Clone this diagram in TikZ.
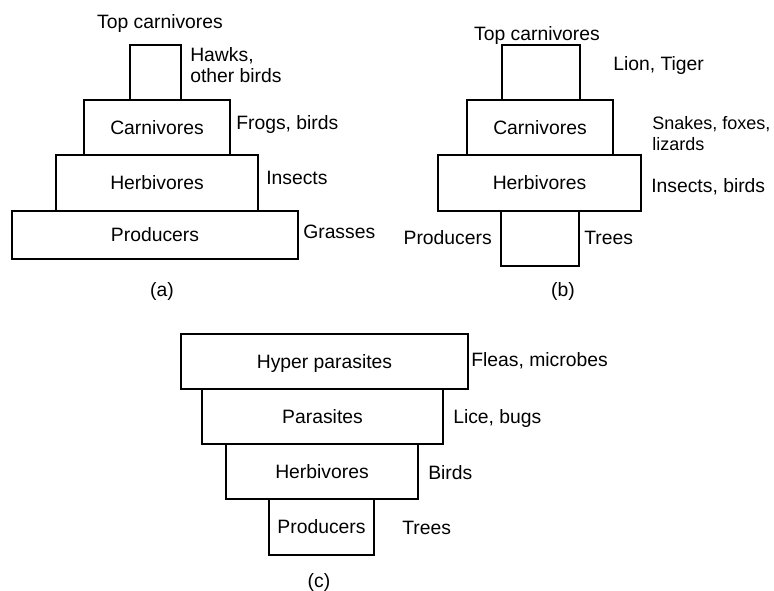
\documentclass[tikz,border=0pt]{standalone}
\usepackage{fontspec}
\setmainfont{Liberation Sans}
\tikzset{
  tier/.style={draw, line width=2.2pt, inner sep=0pt, text height=10.4pt, text depth=0pt},
  side/.style={inner sep=0pt, anchor=base west},
  title/.style={inner sep=0pt, anchor=base},
}
\begin{document}
\begin{tikzpicture}[x=0.75pt,y=-0.75pt,
    every node/.append style={font=\fontsize{14.5pt}{16pt}\selectfont}]
                        \useasboundingbox (0,0) rectangle (774,591);
                        % (a)
                        \node[tier, minimum width=38.25pt, minimum height=41.25pt] (aTop) at (155.5,72.5) {};
                        \node[tier, minimum width=109.5pt, minimum height=41.25pt] (aCarn) at (157,127.5) {Carnivores};
                        \node[tier, minimum width=151.5pt, minimum height=42pt] (aHerb) at (157,183) {Herbivores};
                        \node[tier, minimum width=214.5pt, minimum height=36pt] (aProd) at (155,235) {Producers};
                        \node[title] (aTopName) at (160,29) {Top carnivores};
                        \node[inner sep=0pt, anchor=north west, align=left] (aTopEx) at (190,47) {Hawks,\\other birds};
                        \node[side] (aCarnEx) at (236,130) {Frogs, birds};
                        \node[side] (aHerbEx) at (266,185) {Insects};
                        \node[side] (aProdEx) at (303,239) {Grasses};
                        \node[title] (aCap) at (162,297) {(a)};
                        % (b)
                        \node[tier, minimum width=58.5pt, minimum height=41.25pt] (bTop) at (541,72.5) {};
                        \node[tier, minimum width=109.5pt, minimum height=41.25pt] (bCarn) at (540,127.5) {Carnivores};
                        \node[tier, minimum width=152.25pt, minimum height=42pt] (bHerb) at (539.5,183) {Herbivores};
                        \node[tier, minimum width=58.5pt, minimum height=41.25pt] (bProd) at (540,238.5) {};
                        \node[title] (bTopName) at (537,41) {Top carnivores};
                        \node[side] (bTopEx) at (613,71) {Lion, Tiger};
                        \node[inner sep=0pt, anchor=north west, align=left,
                              font=\fontsize{13.5pt}{16pt}\selectfont] (bCarnEx) at (652,116) {Snakes, foxes,\\lizards};
                        \node[side] (bHerbEx) at (651,193) {Insects, birds};
                        \node[inner sep=0pt, anchor=base east] (bProdName) at (492,245) {Producers};
                        \node[side] (bProdEx) at (584,245) {Trees};
                        \node[title] (bCap) at (563,297) {(b)};
                        % (c)
                        \node[tier, minimum width=215.25pt, minimum height=41.25pt] (cHyper) at (324.5,361.5) {Hyper parasites};
                        \node[tier, minimum width=180.75pt, minimum height=41.25pt] (cPara) at (322.5,416.5) {Parasites};
                        \node[tier, minimum width=144pt, minimum height=41.25pt] (cHerb) at (322,471.5) {Herbivores};
                        \node[tier, minimum width=78.75pt, minimum height=42pt] (cProd) at (321.5,527) {Producers};
                        \node[side] (cHyperEx) at (471,367) {Fleas, microbes};
                        \node[side] (cParaEx) at (453,423) {Lice, bugs};
                        \node[side] (cHerbEx) at (428,479) {Birds};
                        \node[side] (cProdEx) at (402,534) {Trees};
                        \node[title] (cCap) at (319,587) {(c)};
                    \end{tikzpicture}
\end{document}
